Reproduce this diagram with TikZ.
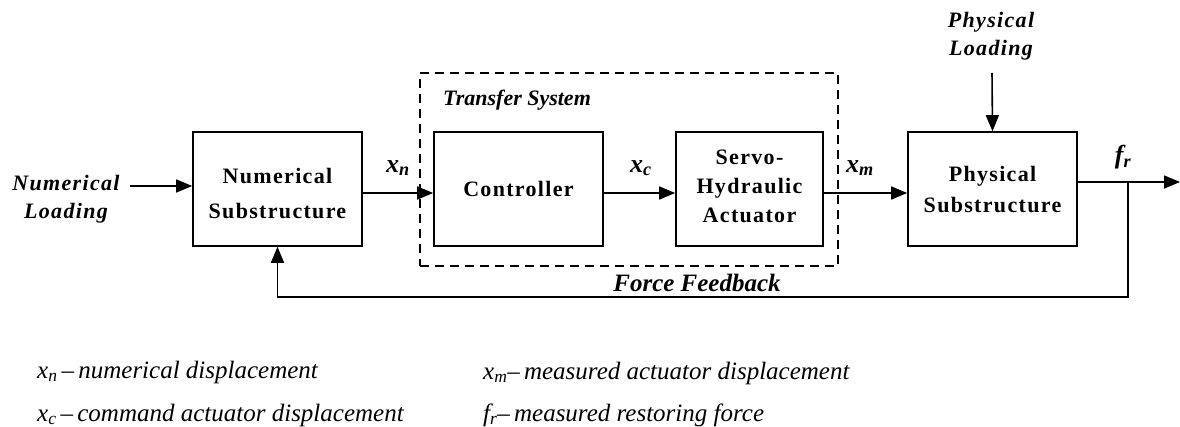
\documentclass[tikz,border=0pt]{standalone}
\usepackage{fontspec}
\setmainfont{Liberation Serif}
\usetikzlibrary{arrows.meta}

\tikzset{
  block/.style={draw, line width=1.6pt, minimum height=114pt, align=center,
    font=\fontsize{22}{31}\selectfont\bfseries\addfontfeature{LetterSpace=6}, inner sep=0pt},
  sig/.style={line width=1.6pt, -{Triangle[length=16pt,width=13pt]}},
  lbl/.style={font=\fontsize{22}{28}\selectfont\bfseries\itshape, inner sep=0pt, align=center},
  sym/.style={font=\fontsize{26}{28}\selectfont\bfseries\itshape, inner sep=0pt},
  legend/.style={font=\fontsize{25}{28}\selectfont\itshape, anchor=base west, inner sep=0pt}
}

\begin{document}
\begin{tikzpicture}[x=1pt, y=-1pt]
  \useasboundingbox (0,0) rectangle (1180,427);

  % transfer system frame
  \node[draw, line width=2.2pt, dash pattern=on 9pt off 6pt,
        minimum width=418pt, minimum height=193pt, inner sep=0pt] (ts) at (629,169.5) {};
  \node[lbl, anchor=west] (tslbl) at (443,100) {Transfer System};

  % blocks
  \node[block, minimum width=169pt] (num) at (277.5,189) {};
  \node[font=\fontsize{22}{35}\selectfont\bfseries\addfontfeature{LetterSpace=6}, align=center, inner sep=0pt]
    (numtxt) at (277.5,194) {Numerical\\Substructure};
  \node[block, minimum width=169pt] (ctrl) at (518.5,189) {Controller};
  \node[block, minimum width=147pt, font=\fontsize{22}{29}\selectfont\bfseries\addfontfeature{LetterSpace=6}] (servo) at (749.5,189) {};
  \node[font=\fontsize{22}{29}\selectfont\bfseries\addfontfeature{LetterSpace=6}, align=center, inner sep=0pt]
    (servotxt) at (749.5,186.5) {Servo-\\Hydraulic\\Actuator};
  \node[block, minimum width=169pt] (phys) at (992.5,189) {};
  \node[font=\fontsize{22}{31}\selectfont\bfseries\addfontfeature{LetterSpace=6}, align=center, inner sep=0pt]
    (phystxt) at (992.5,190) {Physical\\Substructure};

  % external loads
  \node[lbl, font=\fontsize{22}{28}\selectfont\bfseries\itshape\addfontfeature{LetterSpace=6}] (nload) at (66,199) {Numerical\\Loading};
  \coordinate (nin) at (130,186);
  \draw[sig] (nin) -- ([yshift=3pt]num.west);

  \node[lbl, font=\fontsize{22}{28}\selectfont\bfseries\itshape\addfontfeature{LetterSpace=6}] (pload) at (991,36) {Physical\\Loading};
  \coordinate (pin) at (992,73);
  \draw[sig] (pin) -- (phys.north);

  % forward path
  \draw[sig] ([yshift=-4pt]num.east) -- ([yshift=-4pt]ctrl.west);
  \draw[sig] ([yshift=-4pt]ctrl.east) -- ([yshift=-4pt]servo.west);
  \draw[sig] ([yshift=-4pt]servo.east) -- ([yshift=-4pt]phys.west);

  \node[sym] (xn) at (398,168) {x\textsubscript{n}};
  \node[sym] (xc) at (641,168) {x\textsubscript{c}};
  \node[sym] (xm) at (860,168) {x\textsubscript{m}};
  \node[sym] (fr) at (1123,157) {f\textsubscript{r}};

  % output and force feedback
  \coordinate (br) at (1128,182);
  \coordinate (out) at (1180,182);
  \coordinate (fb) at (1128,297);
  \draw[sig] ([yshift=7pt]phys.east) -- (out);
  \draw[sig] (br) -- (fb) -| (num.south);
  \node[lbl, font=\fontsize{25}{28}\selectfont\bfseries\itshape] (fblbl) at (697,283) {Force Feedback};

  % legend
  \node[legend] (l1) at (37,378) {x\textsubscript{n}\,–\,numerical displacement};
  \node[legend] (l2) at (37,421) {x\textsubscript{c}\,–\,command actuator displacement};
  \node[legend] (l3) at (483,379) {x\textsubscript{m}–\,measured actuator displacement};
  \node[legend] (l4) at (483,421) {f\textsubscript{r}–\,measured restoring force};
\end{tikzpicture}
\end{document}
